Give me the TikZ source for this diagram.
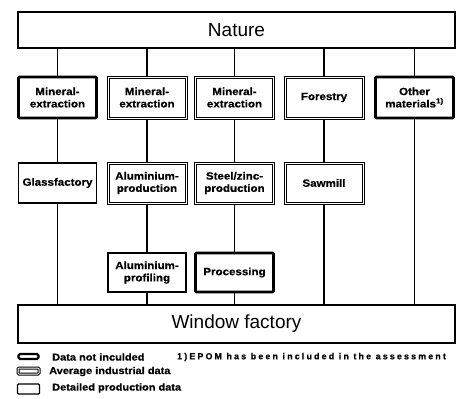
\documentclass[tikz,border=0pt]{standalone}
\usepackage{fontspec}
\setmainfont{Liberation Sans}
\newfontfamily\boxfont[FakeStretch=1.1,FakeBold=0.6]{Liberation Sans}
\newfontfamily\notefont[LetterSpace=25,FakeBold=0.6]{Liberation Sans}
\begin{document}
\begin{tikzpicture}[x=1pt,y=-1pt,
  base/.style={draw=black,fill=white,align=center,inner sep=1pt,
    font=\boxfont\bfseries\fontsize{10.5}{12.3}\selectfont},
  notinc/.style={base,line width=2.6pt,rounded corners=1pt},
  avgdata/.style={base,line width=1pt,double=white,double distance=1pt},
  detail/.style={base,line width=1.2pt},
  cell/.style={minimum width=78pt,minimum height=40pt},
  bigbox/.style={draw=black,fill=white,line width=1.2pt,minimum width=437pt,
    font=\fontsize{19}{22}\selectfont},
  conn/.style={draw=black,line width=1.2pt},
  legtext/.style={anchor=west,inner sep=0pt,font=\boxfont\bfseries\fontsize{10}{12}\selectfont}
]
\useasboundingbox (0,0) rectangle (464,399);
% main boxes
\node[bigbox,minimum height=36pt] (nature) at (236.5,30) {Nature};
\node[bigbox,minimum height=38pt] (window) at (236.5,324) {Window factory};
% row 1
\node[notinc,cell,minimum height=41pt] (me1) at (57.5,97.5) {Mineral-\\extraction};
\node[avgdata,cell,minimum height=41pt] (me2) at (147,97.5) {Mineral-\\extraction};
\node[avgdata,cell,minimum height=41pt] (me3) at (234.5,97.5) {Mineral-\\extraction};
\node[avgdata,cell,minimum height=41pt] (forest) at (324,97.5) {Forestry};
\node[notinc,cell,minimum height=41pt] (other) at (414.5,97.5) {Other\\materials\textsuperscript{1)}};
% row 2
\node[detail,cell] (glass) at (57.5,183) {Glassfactory};
\node[avgdata,cell] (alprod) at (147,183) {Aluminium-\\production};
\node[avgdata,cell] (steel) at (234.5,183) {Steel/zinc-\\production};
\node[avgdata,cell] (saw) at (324,183) {Sawmill};
% row 3
\node[detail,cell,minimum height=39pt] (alprof) at (147,272.5) {Aluminium-\\profiling};
\node[notinc,cell,minimum height=39pt] (proc) at (234.5,272.5) {Processing};
% connectors from nature
\foreach \n in {me1,me2,me3,forest,other}
  \draw[conn] (nature.south -| \n.north) -- (\n.north);
% row1 to row2
\draw[conn] (me1.south) -- (glass.north);
\draw[conn] (me2.south) -- (alprod.north);
\draw[conn] (me3.south) -- (steel.north);
\draw[conn] (forest.south) -- (saw.north);
% row2 to row3
\draw[conn] (alprod.south) -- (alprof.north);
\draw[conn] (steel.south) -- (proc.north);
% to window factory
\draw[conn] (glass.south) -- (window.north -| glass.south);
\draw[conn] (alprof.south) -- (window.north -| alprof.south);
\draw[conn] (proc.south) -- (window.north -| proc.south);
\draw[conn] (saw.south) -- (window.north -| saw.south);
\draw[conn] (other.south) -- (window.north -| other.south);
% legend
\node[draw=black,line width=2.4pt,rounded corners=1.5pt,minimum width=20pt,minimum height=5pt,inner sep=0pt] (ic1) at (28.5,356.5) {};
\node[draw=black,line width=1pt,double=white,double distance=1pt,rounded corners=1pt,minimum width=21pt,minimum height=6pt,inner sep=0pt] (ic2) at (28.5,371) {};
\node[draw=black,line width=1.2pt,rounded corners=1pt,minimum width=22pt,minimum height=10pt,inner sep=0pt] (ic3) at (28.5,389) {};
\node[legtext] (l1) at (52,357) {Data not inculded};
\node[legtext] (l2) at (49,371.5) {Average industrial data};
\node[legtext] (l3) at (52,388) {Detailed production data};
\node[anchor=west,inner sep=0pt,font=\notefont\bfseries\fontsize{8.8}{10}\selectfont] (note) at (177,357) {1)EPOM has been included in the assessment};
\end{tikzpicture}
\end{document}
